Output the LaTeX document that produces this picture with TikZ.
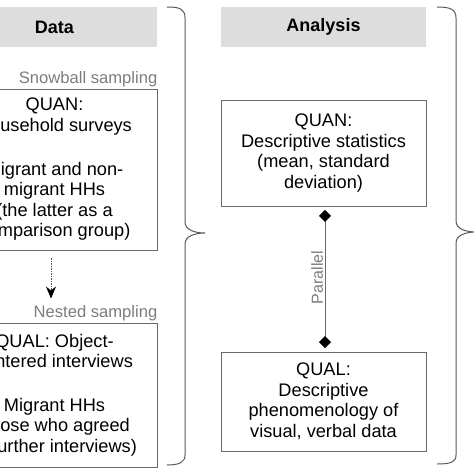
\documentclass[tikz,border=0pt]{standalone}
\usepackage{fontspec}
\setmainfont{Liberation Sans}
\usetikzlibrary{arrows.meta}
\definecolor{hdrfill}{RGB}{221,221,221}
\definecolor{boxline}{RGB}{105,105,105}
\definecolor{lblgray}{RGB}{125,125,125}
\definecolor{bracegray}{RGB}{90,90,90}
\tikzset{
  hdr/.style={fill=hdrfill, draw=none, minimum width=205pt, minimum height=40pt, inner sep=0pt,
    font=\fontsize{18}{20}\selectfont\bfseries},
  mbox/.style={draw=boxline, line width=0.9pt, minimum width=205pt, inner sep=0pt, align=center,
    font=\fontsize{18.2}{20.6}\selectfont},
  lbl/.style={text=lblgray, inner sep=0pt, font=\fontsize{16.6}{18}\selectfont},
  bracestyle/.style={draw=bracegray, line width=1pt},
  parconn/.style={draw=boxline, line width=0.9pt, {Diamond[length=12pt,width=12pt,color=black]}-{Diamond[length=12pt,width=12pt,color=black]}, shorten <=3.5pt, shorten >=3.5pt},
  nestconn/.style={draw=black!65, line width=0.8pt, dash pattern=on 1.5pt off 1pt, -{Stealth[length=12pt,width=10pt,color=black]}}
}
\begin{document}
\begin{tikzpicture}[x=1pt,y=-1pt]
\useasboundingbox (0,0) rectangle (474,474);
\clip (0,0) rectangle (474,474);
\fill[white] (0,0) rectangle (474,474);
% headers
\node[hdr] (hdata) at (54.5,27) {Data};
\node[hdr] (hana) at (323.5,27) {Analysis};
% data column
\node[lbl, anchor=east] (snow) at (157.5,79) {Snowball sampling};
\node[mbox, minimum height=161pt] (dquan) at (54.5,169.5) {QUAN:\\Household surveys\\[23pt]Migrant and non-\\migrant HHs\\(the latter as a\\comparison group)};
\node[lbl, anchor=east] (nest) at (157.5,313) {Nested sampling};
\node[mbox, minimum height=144pt] (dqual) at (54.5,395) {QUAL: Object-\\centered interviews\\[23pt]Migrant HHs\\(those who agreed\\to further interviews)};
% analysis column
\node[mbox, minimum height=106pt] (aquan) at (323.5,153) {QUAN:\\Descriptive statistics\\(mean, standard\\deviation)};
\node[mbox, minimum height=99pt] (aqual) at (323.5,401.5) {QUAL:\\Descriptive\\phenomenology of\\visual, verbal data};
% connectors
\draw[nestconn, shorten <=8pt, shorten >=24pt] ([xshift=-3.5pt]dquan.south) -- ([xshift=-3.5pt]dqual.north);
\draw[parconn] ([xshift=1.5pt]aquan.south) -- node[pos=0.49, rotate=90, anchor=south, lbl, inner sep=1.5pt, font=\fontsize{16}{18}\selectfont] (par) {Parallel} ([xshift=1.5pt]aqual.north);
% braces
\draw[bracestyle] (167,7) .. controls (180,7) and (185,9) .. (185,18) -- (185,222)
  .. controls (185,230) and (195,233) .. (205,233)
  .. controls (195,233) and (185,236) .. (185,244) -- (185,455)
  .. controls (185,462) and (180,465) .. (167,465);
\draw[bracestyle] (437,7) .. controls (450,7) and (456,9) .. (456,18) -- (456,221)
  .. controls (456,229) and (466,232) .. (476,232)
  .. controls (466,232) and (456,235) .. (456,243) -- (456,455)
  .. controls (456,462) and (451,464) .. (437,464);
\end{tikzpicture}
\end{document}
